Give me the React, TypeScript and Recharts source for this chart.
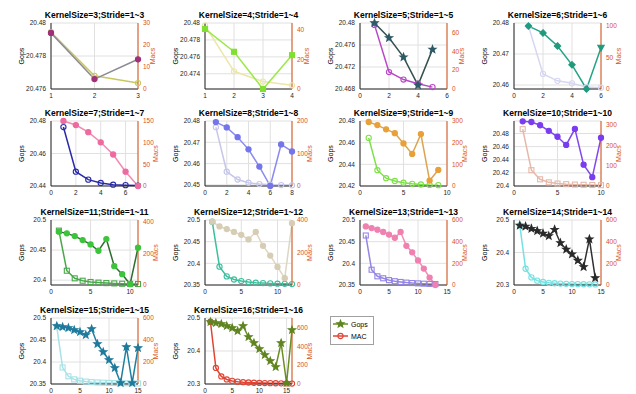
import React from "react";
import { ComposedChart, Line, XAxis, YAxis, CartesianGrid } from "recharts";

const ORANGE = "#d95319";
const INK = "#262626";
const FONT = '"Liberation Sans", Arial, sans-serif';

// Gops (left axis) and MAC (right axis) per stride, one pair per kernel size
const GOPS_K3 = [20.4794, 20.4766, 20.4778];
const MAC_K3 = [25.8, 6, 2.7];
const GOPS_K4 = [20.4793, 20.4766, 20.4722, 20.4762];
const MAC_K4 = [43, 12, 5, 2.5];
const GOPS_K5 = [20.48, 20.4773, 20.4738, 20.4687, 20.4752];
const MAC_K5 = [68, 18, 10, 5.6, 2];
const GOPS_K6 = [20.479, 20.4768, 20.4726, 20.4665, 20.4587, 20.472];
const MAC_K6 = [100, 24, 13, 9, 3, 2];
const GOPS_K7 = [20.48, 20.4775, 20.4731, 20.4669, 20.4594, 20.4488, 20.44];
const MAC_K7 = [136, 33, 14.6, 7, 3, 2, 1];
const GOPS_K8 = [20.4795, 20.477, 20.4724, 20.4667, 20.4586, 20.4495, 20.469, 20.4657];
const MAC_K8 = [181, 44, 20, 10, 6, 4, 3, 2];
const GOPS_K9 = [20.4791, 20.4762, 20.4723, 20.4688, 20.4593, 20.4496, 20.4679, 20.425, 20.4348];
const MAC_K9 = [222, 73, 36, 23, 15, 10, 7, 5, 4];
const GOPS_K10 = [20.4985, 20.4975, 20.4925, 20.484, 20.475, 20.4625, 20.487, 20.4325, 20.4135, 20.4735];
const MAC_K10 = [280, 78, 33, 18, 12, 9, 7, 6, 5, 4];
const GOPS_K11 = [20.4806, 20.4778, 20.4733, 20.4667, 20.4594, 20.4489, 20.4683, 20.4233, 20.41, 20.3933, 20.4539];
const MAC_K11 = [343, 90, 42, 27, 19, 15, 12, 10, 8, 7, 6];
const GOPS_K12 = [20.4963, 20.4851, 20.4791, 20.4724, 20.4657, 20.4552, 20.4724, 20.4403, 20.4179, 20.3918, 20.3657, 20.4925];
const MAC_K12 = [390, 113, 53, 34, 24, 18, 14, 12, 10, 8, 7, 6];
const GOPS_K13 = [20.4851, 20.4813, 20.4776, 20.4724, 20.4664, 20.459, 20.4724, 20.4403, 20.4254, 20.4067, 20.388, 20.3672, 20.35];
const MAC_K13 = [457, 141, 80, 62, 45, 35, 28, 22, 18, 15, 12, 10, 9];
const GOPS_K14 = [20.4833, 20.4804, 20.4735, 20.4667, 20.4588, 20.451, 20.4706, 20.4294, 20.4098, 20.3951, 20.3755, 20.3559, 20.4412, 20.3216];
const MAC_K14 = [550, 150, 70, 40, 28, 20, 16, 13, 11, 9, 8, 7, 6, 5];
const GOPS_K15 = [20.4818, 20.4795, 20.4773, 20.4727, 20.4682, 20.4614, 20.475, 20.4409, 20.4227, 20.4045, 20.3864, 20.3523, 20.4341, 20.3523, 20.4318];
const MAC_K15 = [520, 150, 70, 42, 30, 22, 17, 14, 12, 10, 9, 8, 7, 6, 5];
const GOPS_K16 = [20.4879, 20.4848, 20.4818, 20.4758, 20.4697, 20.4606, 20.4758, 20.4424, 20.4242, 20.406, 20.3879, 20.3697, 20.3515, 20.4242, 20.303, 20.4636];
const MAC_K16 = [660, 170, 80, 48, 33, 25, 19, 16, 13, 11, 10, 9, 8, 7, 6, 5];

type Shape = "circle" | "square" | "diamond" | "star" | "triangle";

interface Spec {
  k: number;
  gops: number[];
  mac: number[];
  xDomain: [number, number];
  xTicks: number[];
  gDomain: [number, number];
  gTicks: number[];
  mDomain: [number, number];
  mTicks: number[];
  gLine: string;
  gMark: string;
  gShape: Shape;
  lastShape?: Shape;
  mColor: string;
  mShape: Shape;
}

const PLOTS: Spec[] = [
  { k: 3, gops: GOPS_K3, mac: MAC_K3, xDomain: [1, 3], xTicks: [1, 2, 3], gDomain: [20.476, 20.48], gTicks: [20.476, 20.478, 20.48], mDomain: [0, 30], mTicks: [0, 10, 20, 30], gLine: "#8e8a95", gMark: "#a0307a", gShape: "circle", mColor: "#c8c860", mShape: "circle" },
  { k: 4, gops: GOPS_K4, mac: MAC_K4, xDomain: [1, 4], xTicks: [1, 2, 3, 4], gDomain: [20.4722, 20.48], gTicks: [20.474, 20.476, 20.478, 20.48], mDomain: [0, 44.7], mTicks: [0, 20, 40], gLine: "#9be84a", gMark: "#7fe030", gShape: "square", mColor: "#ece6a8", mShape: "circle" },
  { k: 5, gops: GOPS_K5, mac: MAC_K5, xDomain: [0, 6], xTicks: [0, 2, 4, 6], gDomain: [20.468, 20.48], gTicks: [20.468, 20.472, 20.476, 20.48], mDomain: [0, 70], mTicks: [0, 20, 40, 60], gLine: "#35524f", gMark: "#2d5a66", gShape: "star", mColor: "#b848c8", mShape: "circle" },
  { k: 6, gops: GOPS_K6, mac: MAC_K6, xDomain: [0, 6], xTicks: [0, 2, 4, 6], gDomain: [20.4587, 20.48], gTicks: [20.46, 20.47, 20.48], mDomain: [0, 105], mTicks: [0, 50, 100], gLine: "#22a486", gMark: "#1f9a7c", gShape: "diamond", lastShape: "triangle", mColor: "#d6d6f2", mShape: "circle" },
  { k: 7, gops: GOPS_K7, mac: MAC_K7, xDomain: [0, 7], xTicks: [0, 2, 4, 6], gDomain: [20.44, 20.48], gTicks: [20.44, 20.46, 20.48], mDomain: [0, 150], mTicks: [0, 50, 100, 150], gLine: "#f28ab0", gMark: "#ee6aa0", gShape: "circle", mColor: "#2a2aa8", mShape: "circle" },
  { k: 8, gops: GOPS_K8, mac: MAC_K8, xDomain: [0, 8], xTicks: [0, 2, 4, 6, 8], gDomain: [20.4495, 20.48], gTicks: [20.45, 20.46, 20.47, 20.48], mDomain: [0, 200], mTicks: [0, 100, 200], gLine: "#8a8af2", gMark: "#7474ec", gShape: "circle", mColor: "#c6c6ea", mShape: "circle" },
  { k: 9, gops: GOPS_K9, mac: MAC_K9, xDomain: [0, 10], xTicks: [0, 5, 10], gDomain: [20.42, 20.48], gTicks: [20.42, 20.44, 20.46, 20.48], mDomain: [0, 300], mTicks: [0, 100, 200, 300], gLine: "#dca44e", gMark: "#e8a038", gShape: "circle", mColor: "#7ee048", mShape: "circle" },
  { k: 10, gops: GOPS_K10, mac: MAC_K10, xDomain: [0, 10], xTicks: [0, 5, 10], gDomain: [20.4, 20.499], gTicks: [20.4, 20.42, 20.44, 20.46, 20.48], mDomain: [0, 320], mTicks: [0, 100, 200, 300], gLine: "#8248f0", gMark: "#7a3cf0", gShape: "circle", mColor: "#e6b8aa", mShape: "square" },
  { k: 11, gops: GOPS_K11, mac: MAC_K11, xDomain: [0, 11], xTicks: [0, 5, 10], gDomain: [20.392, 20.5], gTicks: [20.4, 20.45, 20.5], mDomain: [0, 410], mTicks: [0, 200, 400], gLine: "#2e6e2e", gMark: "#3cc43c", gShape: "circle", mColor: "#4aa84a", mShape: "square" },
  { k: 12, gops: GOPS_K12, mac: MAC_K12, xDomain: [0, 12], xTicks: [0, 5, 10], gDomain: [20.35, 20.5], gTicks: [20.35, 20.4, 20.45, 20.5], mDomain: [0, 400], mTicks: [0, 200, 400], gLine: "#ddd6c2", gMark: "#d6cdb4", gShape: "circle", mColor: "#3cbf9c", mShape: "circle" },
  { k: 13, gops: GOPS_K13, mac: MAC_K13, xDomain: [0, 15], xTicks: [0, 5, 10, 15], gDomain: [20.35, 20.5], gTicks: [20.35, 20.4, 20.45, 20.5], mDomain: [0, 600], mTicks: [0, 200, 400, 600], gLine: "#f28cb8", gMark: "#f080b0", gShape: "circle", mColor: "#9484e4", mShape: "square" },
  { k: 14, gops: GOPS_K14, mac: MAC_K14, xDomain: [0, 15], xTicks: [0, 5, 10, 15], gDomain: [20.3, 20.5], gTicks: [20.3, 20.4, 20.5], mDomain: [0, 600], mTicks: [0, 200, 400, 600], gLine: "#303030", gMark: "#2a2a2a", gShape: "star", mColor: "#74e2e2", mShape: "circle" },
  { k: 15, gops: GOPS_K15, mac: MAC_K15, xDomain: [0, 15], xTicks: [0, 5, 10, 15], gDomain: [20.35, 20.5], gTicks: [20.35, 20.4, 20.45, 20.5], mDomain: [0, 600], mTicks: [0, 200, 400, 600], gLine: "#207f9f", gMark: "#1f7a9c", gShape: "star", mColor: "#a6e2e6", mShape: "square" },
  { k: 16, gops: GOPS_K16, mac: MAC_K16, xDomain: [0, 16], xTicks: [0, 5, 10, 15], gDomain: [20.3, 20.5], gTicks: [20.3, 20.4, 20.5], mDomain: [0, 700], mTicks: [0, 200, 400, 600], gLine: "#6b8e23", gMark: "#5f8420", gShape: "star", mColor: "#e04434", mShape: "circle" },
];

const COL_LEFT = [51, 205, 360, 514];
const ROW_TOP = [23, 121, 220, 318];
const ROW_H = [66, 65, 65, 66];
const FRAME_W = 87;
const LEFT_W = 38;
const RIGHT_W = 30;
const TOP_PAD = 15;
const X_H = 14;

function starPoints(cx: number, cy: number, r: number) {
  const pts: string[] = [];
  for (let i = 0; i < 10; i++) {
    const rr = i % 2 === 0 ? r : r * 0.42;
    const a = -Math.PI / 2 + (i * Math.PI) / 5;
    pts.push(`${cx + rr * Math.cos(a)},${cy + rr * Math.sin(a)}`);
  }
  return pts.join(" ");
}

function Marker({ cx, cy, shape, color, filled }: { cx: number; cy: number; shape: Shape; color: string; filled: boolean }) {
  const fill = filled ? color : "none";
  const common = { fill, stroke: color, strokeWidth: 1.1 };
  if (shape === "square") return <rect x={cx - 2.5} y={cy - 2.5} width={5} height={5} {...common} />;
  if (shape === "diamond") return <polygon points={`${cx},${cy - 3.2} ${cx + 3.2},${cy} ${cx},${cy + 3.2} ${cx - 3.2},${cy}`} {...common} />;
  if (shape === "triangle") return <polygon points={`${cx - 3.2},${cy - 2.6} ${cx + 3.2},${cy - 2.6} ${cx},${cy + 3.2}`} {...common} />;
  if (shape === "star") return <polygon points={starPoints(cx, cy, 3.8)} {...common} />;
  return <circle cx={cx} cy={cy} r={2.6} {...common} />;
}

function Panel({ p, i }: { p: Spec; i: number }) {
  const row = Math.floor(i / 4);
  const col = i % 4;
  const fl = COL_LEFT[col];
  const ft = ROW_TOP[row];
  const fh = ROW_H[row];
  const rows = p.gops.map((g, j) => ({ s: j + 1, gops: g, mac: p.mac[j] }));
  const maxChars = Math.max(...p.mTicks.map((t) => String(t).length));
  const macOffset = RIGHT_W - (4 + maxChars * 3.6 + 3);
  const tickFont = { fontSize: 6.5, fontFamily: FONT };
  const n = p.gops.length;

  return (
    <>
      <div
        style={{
          position: "absolute", left: fl + FRAME_W / 2 - 80, top: ft - 13, width: 160,
          textAlign: "center", fontFamily: FONT, fontWeight: "bold", fontSize: 8.5,
          lineHeight: "10px", whiteSpace: "nowrap", color: "#000",
        }}
      >
        {`KernelSize=${p.k};Stride=1~${p.k}`}
      </div>
      <div style={{ position: "absolute", left: fl - LEFT_W, top: ft - TOP_PAD }}>
        <ComposedChart
          width={LEFT_W + FRAME_W + RIGHT_W}
          height={TOP_PAD + fh + X_H}
          data={rows}
          margin={{ top: TOP_PAD, right: 0, bottom: 0, left: 0 }}
        >
          <CartesianGrid xAxisId="b" yAxisId="l" stroke="#e0e0e0" />
          <XAxis
            xAxisId="b" dataKey="s" type="number" domain={p.xDomain} ticks={p.xTicks} interval={0}
            height={X_H} tickSize={2} tickMargin={2} tickLine={false} stroke={INK}
            tick={{ ...tickFont, fill: INK }}
          />
          <XAxis xAxisId="t" orientation="top" dataKey="s" type="number" domain={p.xDomain} height={0} tick={false} tickLine={false} stroke={INK} />
          <YAxis
            yAxisId="l" type="number" domain={p.gDomain} ticks={p.gTicks} interval={0} width={LEFT_W}
            tickSize={2} tickMargin={3} tickLine={false} stroke={INK} tick={{ ...tickFont, fill: INK }}
            label={{ value: "Gops", angle: -90, position: "insideLeft", offset: 9, style: { textAnchor: "middle", fontSize: 7, fill: "#000", fontFamily: FONT } }}
          />
          <YAxis
            yAxisId="r" orientation="right" type="number" domain={p.mDomain} ticks={p.mTicks} interval={0} width={RIGHT_W}
            tickSize={2} tickMargin={3} tickLine={false} stroke={ORANGE} tick={{ ...tickFont, fill: ORANGE }}
            label={{ value: "Macs", angle: -90, position: "insideRight", offset: macOffset, style: { textAnchor: "middle", fontSize: 7, fill: ORANGE, fontFamily: FONT } }}
          />
          <Line
            xAxisId="b" yAxisId="r" dataKey="mac" stroke={p.mColor} strokeWidth={1.5} isAnimationActive={false}
            dot={(d: any) => <Marker key={`m${d.index}`} cx={d.cx} cy={d.cy} shape={p.mShape} color={p.mColor} filled={false} />}
          />
          <Line
            xAxisId="b" yAxisId="l" dataKey="gops" stroke={p.gLine} strokeWidth={1.5} isAnimationActive={false}
            dot={(d: any) => (
              <Marker
                key={`g${d.index}`} cx={d.cx} cy={d.cy} color={p.gMark} filled
                shape={d.index === n - 1 && p.lastShape ? p.lastShape : p.gShape}
              />
            )}
          />
        </ComposedChart>
      </div>
    </>
  );
}

function LegendBox() {
  return (
    <div style={{ position: "absolute", left: 330, top: 316 }}>
      <svg width={44} height={29}>
        <rect x={0.5} y={0.5} width={43} height={28} fill="#fff" stroke="#a0a0a0" />
        <line x1={3} y1={8} x2={18} y2={8} stroke="#6b8e23" strokeWidth={1.5} />
        <Marker cx={10.5} cy={8} shape="star" color="#5f8420" filled />
        <text x={21} y={10.5} fontSize={7} fontFamily={FONT} fill="#000">Gops</text>
        <line x1={3} y1={20} x2={18} y2={20} stroke="#e04434" strokeWidth={1.5} />
        <Marker cx={10.5} cy={20} shape="circle" color="#e04434" filled={false} />
        <text x={21} y={22.5} fontSize={7} fontFamily={FONT} fill="#000">MAC</text>
      </svg>
    </div>
  );
}

export default function App() {
  return (
    <div style={{ position: "absolute", left: 0, top: 0, width: 636, height: 394, background: "#fff", overflow: "hidden" }}>
      {PLOTS.map((p, i) => (
        <Panel key={p.k} p={p} i={i} />
      ))}
      <LegendBox />
    </div>
  );
}
